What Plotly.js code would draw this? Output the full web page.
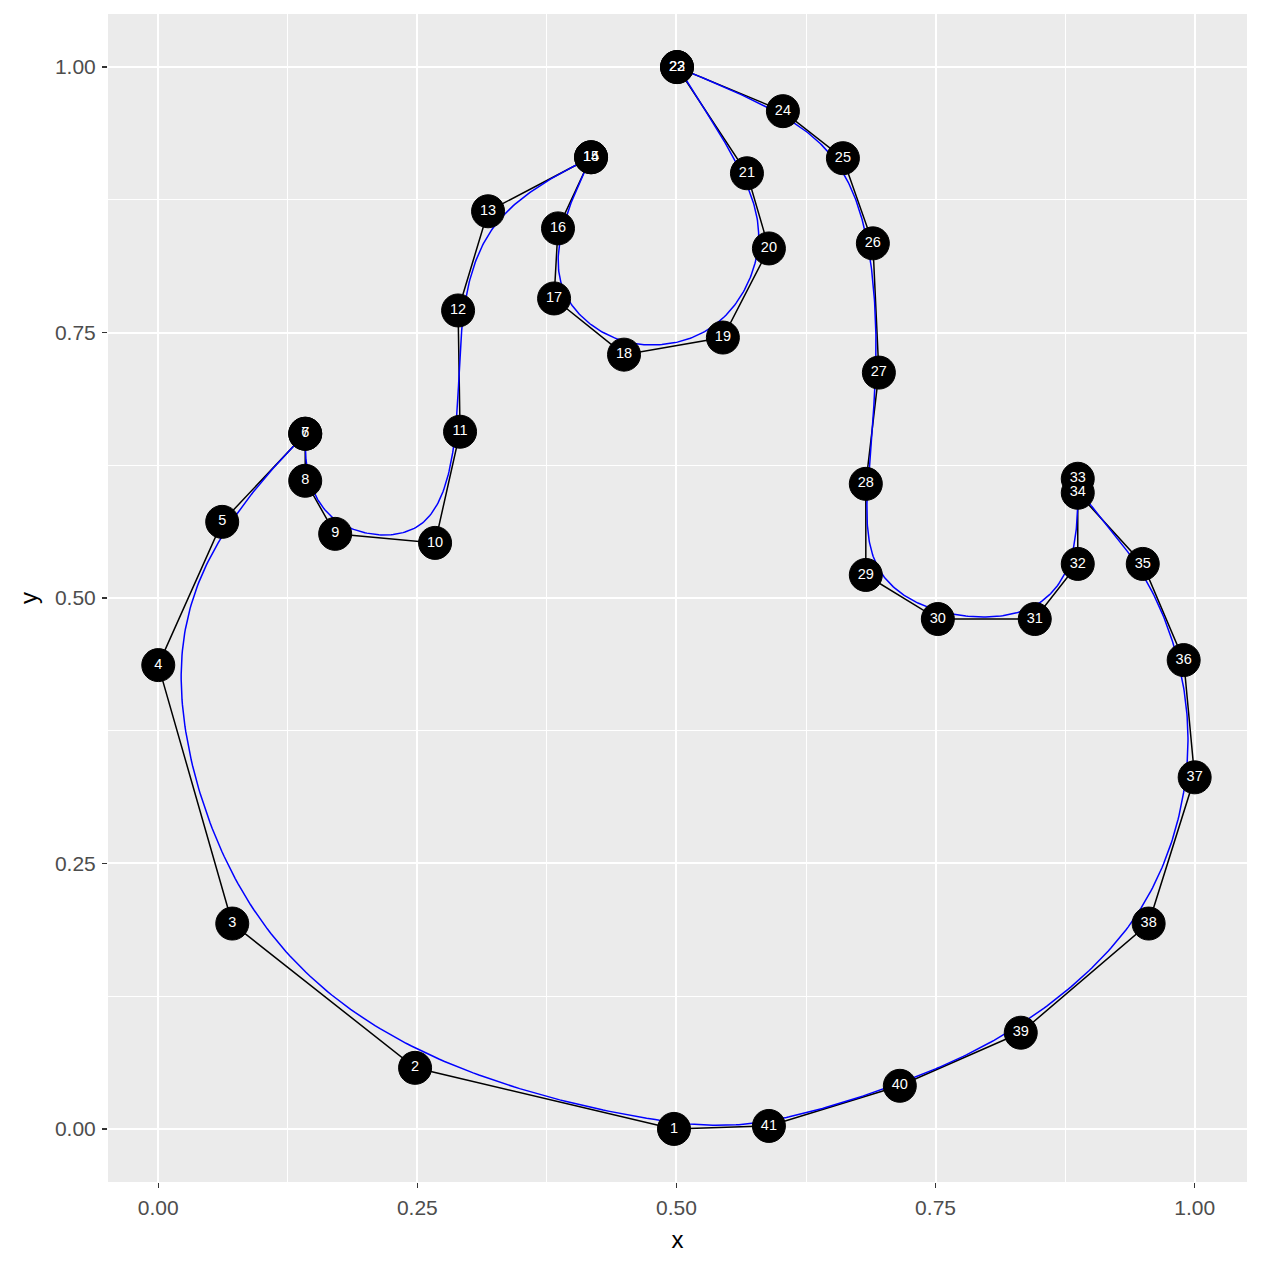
<!DOCTYPE html>
<html>
<head>
<meta charset="utf-8">
<script src="https://cdn.plot.ly/plotly-3.0.1.min.js"></script>
<style>html,body{margin:0;padding:0;background:#fff;}#chart{width:1262px;height:1268px;}</style>
</head>
<body>
<div id="chart"></div>
<script>
const labels = ["1","2","3","4","5","6","7","8","9","10","11","12","13","14","15","16","17","18","19","20","21","22","23","24","25","26","27","28","29","30","31","32","33","34","35","36","37","38","39","40","41"];
const xs = [0.4976,0.2478,0.0714,0.0000,0.0617,0.1418,0.1418,0.1418,0.1707,0.2671,0.2912,0.2893,0.3182,0.4176,0.4176,0.3857,0.3819,0.4494,0.5448,0.5892,0.5680,0.5005,0.5005,0.6027,0.6606,0.6895,0.6953,0.6827,0.6827,0.7522,0.8457,0.8872,0.8872,0.8872,0.9499,0.9894,1.0000,0.9556,0.8322,0.7155,0.5892];
const ys = [0.0000,0.0575,0.1934,0.4368,0.5717,0.6547,0.6547,0.6104,0.5604,0.5519,0.6566,0.7708,0.8642,0.9151,0.9151,0.8481,0.7821,0.7292,0.7453,0.8292,0.9000,1.0000,1.0000,0.9585,0.9142,0.8340,0.7123,0.6075,0.5217,0.4802,0.4802,0.5321,0.6123,0.5991,0.5321,0.4415,0.3311,0.1934,0.0906,0.0406,0.0028];
const tickVals = [0, 0.25, 0.5, 0.75, 1];
const tickText = ["0.00","0.25","0.50","0.75","1.00"];

// closed path
const px = xs.concat([xs[0]]);
const py = ys.concat([ys[0]]);

// closed uniform cubic B-spline from the control points
const n = xs.length;
const bx = [], by = [];
const steps = 40;
for (let i = 0; i < n; i++) {
  const i0 = (i - 1 + n) % n, i1 = i, i2 = (i + 1) % n, i3 = (i + 2) % n;
  for (let s = 0; s < steps; s++) {
    const t = s / steps;
    const b0 = Math.pow(1 - t, 3) / 6;
    const b1 = (3*t*t*t - 6*t*t + 4) / 6;
    const b2 = (-3*t*t*t + 3*t*t + 3*t + 1) / 6;
    const b3 = t*t*t / 6;
    bx.push(b0*xs[i0] + b1*xs[i1] + b2*xs[i2] + b3*xs[i3]);
    by.push(b0*ys[i0] + b1*ys[i1] + b2*ys[i2] + b3*ys[i3]);
  }
}
bx.push(bx[0]); by.push(by[0]);

const traces = [
  {x: px, y: py, mode: 'lines', line: {color: '#000000', width: 1.5}, hoverinfo: 'skip'},
  {x: bx, y: by, mode: 'lines', line: {color: '#0000FF', width: 1.5}, hoverinfo: 'skip'},
  {x: xs, y: ys, mode: 'markers+text', text: labels, textposition: 'middle center',
   textfont: {family: 'Liberation Sans, Arial, sans-serif', size: 14.5, color: '#FFFFFF'},
   marker: {color: '#000000', size: 33, line: {color: '#000000', width: 1}}}
];

const axisCommon = {
  tickvals: tickVals, ticktext: tickText,
  ticks: 'outside', ticklen: 5, tickwidth: 1.5, tickcolor: '#333333',
  ticklabelstandoff: 2,
  tickfont: {family: 'Liberation Sans, Arial, sans-serif', size: 21, color: '#4D4D4D'},
  showgrid: true, gridcolor: '#FFFFFF', gridwidth: 2,
  minor: {tickvals: [0.125, 0.375, 0.625, 0.875], showgrid: true, gridcolor: '#FFFFFF', gridwidth: 1, ticks: ''},
  zeroline: false, showline: false, fixedrange: true
};

const layout = {
  width: 1262, height: 1268,
  margin: {l: 108, r: 15, t: 14, b: 86},
  paper_bgcolor: '#FFFFFF', plot_bgcolor: '#EBEBEB',
  showlegend: false,
  xaxis: Object.assign({}, axisCommon, {range: [-0.0485, 1.0505], title: {text: 'x', font: {family: 'Liberation Sans, Arial, sans-serif', size: 24, color: '#000000'}, standoff: 12}}),
  yaxis: Object.assign({}, axisCommon, {range: [-0.05, 1.05], title: {text: 'y', font: {family: 'Liberation Sans, Arial, sans-serif', size: 24, color: '#000000'}, standoff: 10}})
};

Plotly.newPlot('chart', traces, layout, {displayModeBar: false, staticPlot: true});
</script>
</body>
</html>
